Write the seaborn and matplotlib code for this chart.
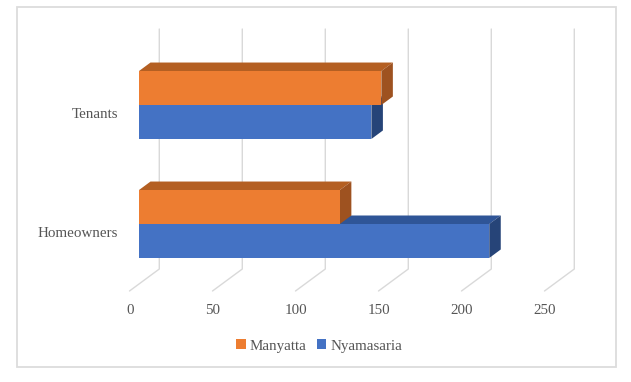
import pandas as pd
import seaborn as sns
import matplotlib.pyplot as plt
from matplotlib.patches import Polygon, Rectangle
from matplotlib.transforms import ScaledTranslation

groups = ["Tenants", "Homeowners"]
manyatta = [146, 121]
nyamasaria = [140, 211]
ticks = [0, 50, 100, 150, 200, 250]

W, H = 631, 382
dpi = 100
text_col = "#555555"
grid_col = "#d9d9d9"

sns.set_style("white")
plt.rcParams['font.family'] = ['Liberation Serif', 'DejaVu Serif']
plt.rcParams['font.size'] = 10.8

df = pd.DataFrame({
    "group": groups * 2,
    "site": ["Manyatta"] * 2 + ["Nyamasaria"] * 2,
    "value": manyatta + nyamasaria,
})

fig = plt.figure(figsize=(W / dpi, H / dpi), dpi=dpi)

# axes placed so that the front plane of the bars lines up with the picture
left, right = 139, 139 + 1.66 * 250
top, bottom = 45.5, 283.5
ax = fig.add_axes([left / W, 1 - bottom / H, (right - left) / W, (bottom - top) / H])

sns.barplot(data=df, y="group", x="value", hue="site", order=groups,
            hue_order=["Manyatta", "Nyamasaria"],
            palette={"Manyatta": "#ED7D31", "Nyamasaria": "#4472C4"},
            width=0.571, dodge=True, saturation=1, ax=ax, zorder=5, errorbar=None,
            linewidth=0, edgecolor="none")
ax.set_xlim(0, 250)
ax.set_ylim(1.5, -0.5)

px_x = 250 / (right - left)
px_y = 2 / (bottom - top)

# 3d depth of the bars, in data units
dx = 11.5 * px_x
dy = 8.5 * px_y

# top and side faces, blue first so the orange bars sit over them
for cont, top_col, side_col, z in [(ax.containers[1], "#2F5597", "#264478", 3),
                                   (ax.containers[0], "#B45F22", "#9E5220", 4)]:
    for bar in cont:
        x1 = bar.get_width()
        y0 = bar.get_y()
        y1 = y0 + bar.get_height()
        ax.add_patch(Polygon([(0, y0), (dx, y0 - dy), (x1 + dx, y0 - dy), (x1, y0)],
                             closed=True, fc=top_col, ec="none", zorder=z, clip_on=False))
        ax.add_patch(Polygon([(x1, y0), (x1 + dx, y0 - dy), (x1 + dx, y1 - dy), (x1, y1)],
                             closed=True, fc=side_col, ec="none", zorder=z, clip_on=False))

# back wall and floor lines
wall = 20.3 * px_x
floor = -9.5 * px_x
wall_top = 1.5 - (bottom - 29) * px_y
wall_bot = 1.5 - (bottom - 269) * px_y
floor_y = 1.5 + (291 - bottom) * px_y
for t in ticks:
    ax.plot([t + wall, t + wall, t + floor], [wall_top, wall_bot, floor_y],
            color=grid_col, lw=1.0, zorder=1, clip_on=False)

sns.despine(ax=ax, left=True, bottom=True)
ax.set_xlabel("")
ax.set_ylabel("")
ax.set_xticks(ticks)
ax.tick_params(axis="both", length=0, labelcolor=text_col, labelsize=10.8)
ax.tick_params(axis="x", pad=15)
ax.tick_params(axis="y", pad=15)
shift_x = ScaledTranslation(-9 / dpi, 0, fig.dpi_scale_trans)
for lab in ax.get_xticklabels():
    lab.set_transform(lab.get_transform() + shift_x)
shift_y = ScaledTranslation(0, -8 / dpi, fig.dpi_scale_trans)
for lab in ax.get_yticklabels():
    lab.set_transform(lab.get_transform() + shift_y)

ax.legend(loc="center", bbox_to_anchor=(319 / W, 1 - 346 / H),
          bbox_transform=fig.transFigure, ncol=2, frameon=False,
          handlelength=0.65, handleheight=0.65, handletextpad=0.25,
          columnspacing=0.7, labelcolor=text_col, fontsize=10.8, borderpad=0)

# chart border
fig.add_artist(Rectangle((17 / W, 1 - 366.5 / H), (616 - 17) / W, (366.5 - 7) / H,
                         transform=fig.transFigure, fc="none", ec="#dcdcdc", lw=1.3))

fig.savefig("out.png", dpi=dpi)
